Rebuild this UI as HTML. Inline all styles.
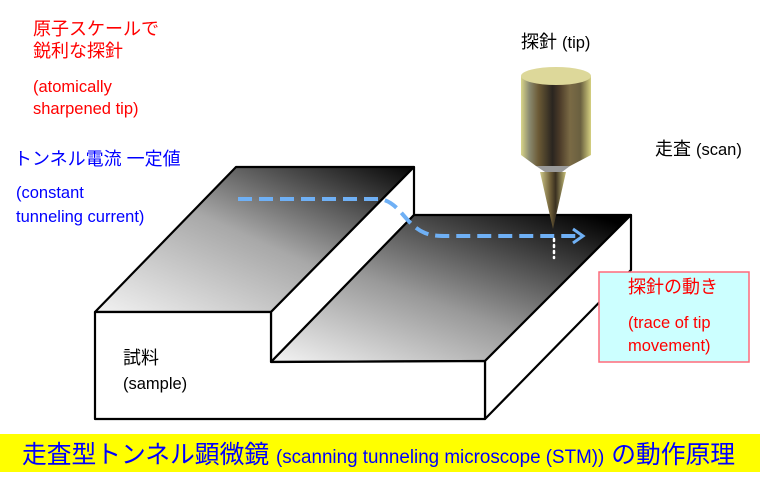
<!DOCTYPE html>
<html><head><meta charset="utf-8"><style>
html,body{margin:0;padding:0;background:#fff;}
svg{display:block;}
text{font-family:"Liberation Sans","Noto Sans CJK JP",sans-serif;}
</style></head><body>
<svg width="760" height="485" viewBox="0 0 760 485" xmlns="http://www.w3.org/2000/svg">
<defs>
<linearGradient id="g1" x1="0" y1="1" x2="1" y2="0">
<stop offset="0" stop-color="#f2f2f2"/><stop offset="0.5" stop-color="#a8a8a8"/><stop offset="1" stop-color="#050505"/>
</linearGradient>
<linearGradient id="g2" x1="0" y1="1" x2="0.9" y2="0">
<stop offset="0" stop-color="#f4f4f4"/><stop offset="0.45" stop-color="#999"/><stop offset="1" stop-color="#000"/>
</linearGradient>
<linearGradient id="cyl" x1="0" y1="0" x2="1" y2="0">
<stop offset="0" stop-color="#d9d68a"/><stop offset="0.12" stop-color="#8a8a70"/><stop offset="0.25" stop-color="#6b5a35"/><stop offset="0.45" stop-color="#2a2520"/><stop offset="0.55" stop-color="#4a3a28"/><stop offset="0.7" stop-color="#7a6a45"/><stop offset="0.85" stop-color="#6a6040"/><stop offset="1" stop-color="#d5d080"/>
</linearGradient>
<linearGradient id="cone" x1="0" y1="0" x2="1" y2="0">
<stop offset="0" stop-color="#cfc98a"/><stop offset="0.4" stop-color="#6e5e38"/><stop offset="0.6" stop-color="#3a3020"/><stop offset="1" stop-color="#c8c07a"/>
</linearGradient>
</defs>

<g stroke="#000" stroke-width="2.2" stroke-linejoin="round">
<polygon points="95,312 236,167 414,167 271,312" fill="url(#g1)"/>
<polygon points="271,312 414,167 414,215 271,362" fill="#fff"/>
<polygon points="271,362 414,215 631,215 485,361" fill="url(#g2)"/>
<polygon points="485,361 631,215 631,270 485,419" fill="#fff"/>
<polygon points="95,312 271,312 271,362 485,361 485,419 95,419" fill="#fff"/>
</g>

<path d="M238,199 L380,199 C400,202 405,225 425,233 C430,235 435,236 445,236 L578,236" fill="none" stroke="#6fb0f5" stroke-width="4" stroke-dasharray="14,7"/>
<path d="M573,229 L583,236 L573,243" fill="none" stroke="#6fb0f5" stroke-width="3"/>
<line x1="554" y1="239" x2="554" y2="258" stroke="#fff" stroke-width="2.5" stroke-dasharray="2,4" stroke-linecap="round"/>

<polygon points="521,76 521,155 536,166 570,166 591,155 591,76" fill="url(#cyl)"/>
<ellipse cx="556" cy="76" rx="35" ry="9" fill="#ddd89a"/>
<polygon points="536,166 570,166 562,172 545,172" fill="#9a9a9a"/>
<polygon points="540,172 566,172 553,229" fill="url(#cone)"/>

<g font-size="18" fill="#ff0000">
<text x="33" y="35">原子スケールで</text>
<text x="33" y="57">鋭利な探針</text>
<text x="33" y="92" font-size="16.5">(atomically</text>
<text x="33" y="114" font-size="16.5">sharpened tip)</text>
</g>
<g font-size="18" fill="#0000ff">
<text x="14" y="165">トンネル電流 一定値</text>
<text x="16" y="198" font-size="16.5">(constant</text>
<text x="16" y="222" font-size="16.5">tunneling current)</text>
</g>
<text x="521" y="48" font-size="18" fill="#000">探針 <tspan font-size="16.5">(tip)</tspan></text>
<text x="655" y="155" font-size="18" fill="#000">走査 <tspan font-size="16.5">(scan)</tspan></text>
<text x="123" y="364" font-size="18" fill="#000">試料</text>
<text x="123" y="389" font-size="16.5" fill="#000">(sample)</text>

<rect x="599" y="272" width="150" height="90" fill="#ccffff" stroke="#ff6a7a" stroke-width="1.5"/>
<g fill="#ff0000">
<text x="628" y="293" font-size="18">探針の動き</text>
<text x="628" y="328" font-size="16.5">(trace of tip</text>
<text x="628" y="351" font-size="16.5">movement)</text>
</g>

<rect x="0" y="434" width="760" height="38" fill="#ffff00"/>
<text x="22" y="463" fill="#0000ff" font-size="25" textLength="713" lengthAdjust="spacingAndGlyphs">走査型トンネル顕微鏡 <tspan font-size="19">(scanning tunneling microscope (STM))</tspan> の動作原理</text>
</svg>
</body></html>
